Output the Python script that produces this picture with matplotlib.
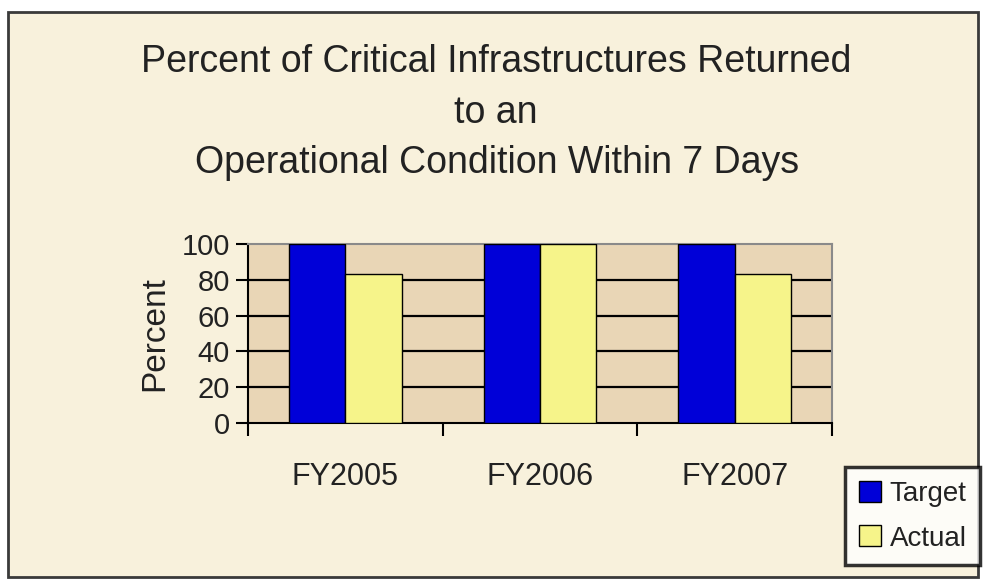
import matplotlib
matplotlib.use("Agg")
import matplotlib.pyplot as plt
from matplotlib.patches import Rectangle
import numpy as np

categories = ["FY2005", "FY2006", "FY2007"]
target = [100, 100, 100]
actual = [83, 100, 83]
yticks = [0, 20, 40, 60, 80, 100]
title_lines = ["Percent of Critical Infrastructures Returned", "to an",
               "Operational Condition Within 7 Days"]

plt.rcParams['font.family'] = ['Liberation Sans', 'DejaVu Sans']

W, H = 984, 587
fig = plt.figure(figsize=(W / 100, H / 100), dpi=100)
fig.patch.set_facecolor('white')

# chart frame
frame = Rectangle((8 / W, 1 - 577 / H), (978 - 8) / W, (577 - 12) / H,
                  transform=fig.transFigure, facecolor='#f8f1dc',
                  edgecolor='#3a3a3a', linewidth=2, zorder=-5)
fig.patches.append(frame)

ax = fig.add_axes([248 / W, 1 - 423 / H, (832 - 248) / W, (423 - 244) / H])
ax.set_facecolor('#e9d6b6')

x = np.arange(len(categories))
bw = 0.29
ax.bar(x - bw / 2, target, bw, color='#0000d8', edgecolor='black',
       linewidth=1, label='Target', zorder=3)
ax.bar(x + bw / 2, actual, bw, color='#f6f48a', edgecolor='black',
       linewidth=1, label='Actual', zorder=3)

ax.set_xlim(-0.5, len(categories) - 0.5)
ax.set_ylim(0, 100)
ax.set_yticks(yticks)
ax.set_yticklabels([str(v) for v in yticks], fontsize=21, color='#222222')
for v in yticks[1:-1]:
    ax.axhline(v, color='black', linewidth=1.6, zorder=1)

ax.set_xticks(x)
ax.set_xticklabels(categories, fontsize=22, color='#222222')
ax.tick_params(axis='x', which='major', length=0, pad=28)
ax.set_xticks(np.arange(-0.5, len(categories), 1.0), minor=True)
ax.tick_params(axis='x', which='minor', length=9, width=1.5, direction='out',
               color='black')
ax.tick_params(axis='y', length=9, width=1.5, direction='out', color='black',
               pad=4)

ax.spines['left'].set_color('black')
ax.spines['left'].set_linewidth(1.5)
ax.spines['bottom'].set_color('black')
ax.spines['bottom'].set_linewidth(1.5)
ax.spines['top'].set_color('#8a8a8a')
ax.spines['right'].set_color('#8a8a8a')
ax.spines['top'].set_linewidth(1.5)
ax.spines['right'].set_linewidth(1.5)

ax.set_ylabel('Percent', fontsize=24, color='#222222', labelpad=8)

fig.text(496 / W, 1 - 62 / H, title_lines[0], ha='center', va='center',
         fontsize=27, color='#222222')
fig.text(496 / W, 1 - 113 / H, title_lines[1], ha='center', va='center',
         fontsize=27, color='#222222')
fig.text(497 / W, 1 - 163 / H, title_lines[2], ha='center', va='center',
         fontsize=27, color='#222222')

leg = fig.legend(loc='upper left', bbox_to_anchor=(845 / W, 1 - 467 / H),
                 fontsize=20, frameon=True, fancybox=False, shadow=False,
                 handlelength=0.8, handleheight=0.8, handletextpad=0.3,
                 borderpad=0.5, labelspacing=0.65, borderaxespad=0)
leg.get_frame().set_edgecolor('black')
leg.get_frame().set_linewidth(2.5)
leg.get_frame().set_facecolor('white')
for t in leg.get_texts():
    t.set_color('#222222')

fig.savefig('out.png', dpi=100, facecolor='white')
